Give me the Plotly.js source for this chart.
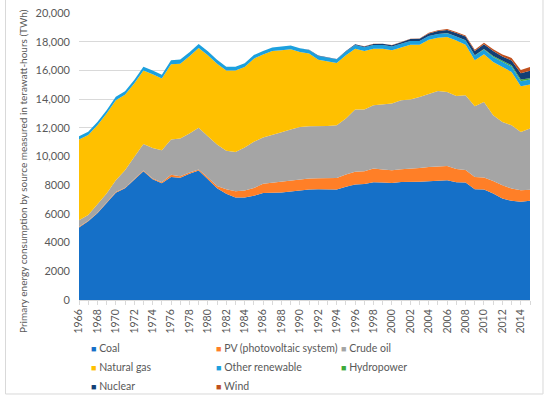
<!DOCTYPE html>
<html>
<head>
<meta charset="utf-8">
<script src="https://cdn.plot.ly/plotly-3.0.1.min.js"></script>
<style>html,body{margin:0;padding:0;background:#fff;}#chart{width:550px;height:395px;}</style>
</head>
<body>
<div id="chart"></div>
<script>
// ---- data (TWh), years 1966..2015 ----
var years = [1966,1967,1968,1969,1970,1971,1972,1973,1974,1975,
             1976,1977,1978,1979,1980,1981,1982,1983,1984,1985,
             1986,1987,1988,1989,1990,1991,1992,1993,1994,1995,
             1996,1997,1998,1999,2000,2001,2002,2003,2004,2005,
             2006,2007,2008,2009,2010,2011,2012,2013,2014,2015];
var coal = [5060,5480,6040,6760,7480,7780,8360,8970,8410,8140,
            8580,8520,8800,9020,8420,7780,7400,7150,7150,7270,
            7450,7450,7500,7560,7650,7700,7720,7700,7700,7890,
            8050,8080,8210,8180,8150,8220,8220,8240,8280,8330,
            8350,8210,8190,7720,7700,7420,7070,6910,6840,6910];
var pv = [40,40,40,40,40,40,40,50,50,60,
          140,110,90,80,120,160,320,420,480,530,
          650,720,720,740,760,770,770,790,800,860,
          880,900,950,920,900,890,910,960,990,970,
          980,920,870,860,840,880,920,860,810,770];
var crudeOil = [450,410,600,620,830,1230,1570,1850,2140,2240,
                2460,2620,2710,2900,2870,2890,2680,2750,2990,3220,
                3220,3310,3470,3580,3650,3640,3620,3640,3680,3890,
                4340,4290,4410,4540,4640,4810,4840,4950,5110,5270,
                5170,5090,5210,4920,5260,4570,4420,4410,4060,4270];
var naturalGas = [5630,5560,5500,5570,5570,5260,5110,5130,5130,4990,
                  5240,5220,5380,5560,5640,5640,5600,5680,5620,5800,
                  5780,5870,5710,5590,5220,5060,4640,4500,4330,4410,
                  4240,4080,3940,3870,3710,3670,3820,3640,3760,3710,
                  3830,3870,3520,3200,3320,3720,3830,3710,3180,3060];
var otherRenewable = [230,230,230,230,240,240,250,260,260,260,
                      280,290,280,280,280,270,260,250,250,250,
                      250,250,260,260,260,260,260,260,260,260,
                      260,260,260,260,260,260,260,260,260,260,
                      260,270,290,330,330,350,370,380,350,350];
var hydropower = [0,0,0,0,0,0,0,0,0,0,
                  0,0,0,0,0,0,0,0,0,0,
                  0,0,0,0,0,0,0,0,0,0,
                  0,0,0,0,0,0,0,0,0,5,
                  8,10,15,20,40,60,70,90,130,100];
var nuclear = [0,0,0,0,0,0,0,0,0,0,
               0,0,0,0,0,0,0,0,0,0,
               0,0,0,0,10,15,20,25,30,40,
               50,60,70,80,90,110,130,150,180,200,
               220,240,260,300,330,350,280,330,440,520];
var wind = [0,0,0,0,0,0,0,0,0,0,
            0,0,0,0,0,0,0,0,0,0,
            0,0,0,0,0,0,0,0,0,5,
            5,8,10,12,15,20,25,30,40,50,
            60,70,80,90,110,130,150,180,220,260];
var tickYears = [1966,1968,1970,1972,1974,1976,1978,1980,1982,1984,1986,1988,1990,
                 1992,1994,1996,1998,2000,2002,2004,2006,2008,2010,2012,2014];
var yTickVals = [0,2000,4000,6000,8000,10000,12000,14000,16000,18000,20000];
var yTickText = ['0','2000','4000','6000','8000','10,000','12,000','14,000','16,000','18,000','20,000'];

var seriesNames = ['Coal','PV (photovoltaic system)','Crude oil','Natural gas','Other renewable','Hydropower','Nuclear','Wind'];
var seriesData = [coal, pv, crudeOil, naturalGas, otherRenewable, hydropower, nuclear, wind];
var seriesColors = ['#1570C8','#FF7F27','#A5A5A5','#FFC000','#1CA0DE','#3DAA3A','#123F75','#C0501E'];
// legend columns (as in the original 3-column legend)
var legendCols = ['c1','c2','c3','c1','c2','c3','c1','c2'];

var FONT = 'Lato, Carlito, "Liberation Sans", sans-serif';
var traces = [];
for (var i = 0; i < seriesNames.length; i++) {
  traces.push({
    x: years, y: seriesData[i], name: seriesNames[i],
    type: 'scatter', mode: 'lines', stackgroup: 'one',
    line: {width: 0, color: seriesColors[i]}, fillcolor: seriesColors[i],
    showlegend: false, hoverinfo: 'x+y+name'
  });
}
// legend entries
for (var j = 0; j < seriesNames.length; j++) {
  traces.push({
    x: [null], y: [null], type: 'scatter', mode: 'markers',
    marker: {color: 'rgba(0,0,0,0)', size: 1},
    name: '<span style="color:' + seriesColors[j] + ';font-size:9px">■</span> ' + seriesNames[j],
    legendgroup: legendCols[j], showlegend: true, hoverinfo: 'skip'
  });
}

var xTickVals = years.slice();
var xTickText = years.map(function(y){ return tickYears.indexOf(y) >= 0 ? String(y) : ''; });

var layout = {
  width: 550, height: 395,
  margin: {l: 79, r: 20, t: 13, b: 95, autoexpand: false},
  paper_bgcolor: '#ffffff', plot_bgcolor: '#ffffff',
  font: {family: FONT, size: 10, color: '#595959'},
  showlegend: true,
  legend: {
    orientation: 'h', traceorder: 'grouped', tracegroupgap: 0,
    x: -0.062, xanchor: 'left', y: -0.117, yanchor: 'top',
    entrywidth: 80, entrywidthmode: 'pixels',
    font: {family: FONT, size: 10.5, color: '#595959'},
    bgcolor: 'rgba(0,0,0,0)'
  },
  xaxis: {
    range: [1966, 2015], tickmode: 'array', tickvals: xTickVals, ticktext: xTickText,
    tickangle: -90, ticks: 'outside', ticklen: 4, tickcolor: '#D9D9D9',
    showgrid: false, zeroline: false, showline: true, linecolor: '#D9D9D9',
    tickfont: {family: FONT, size: 10.5, color: '#595959'}, fixedrange: true
  },
  yaxis: {
    range: [0, 20000], tickmode: 'array', tickvals: yTickVals, ticktext: yTickText,
    showgrid: true, gridcolor: '#D9D9D9', gridwidth: 1, zeroline: false,
    showline: false, ticks: '', ticklabelstandoff: 8,
    tickfont: {family: FONT, size: 11, color: '#595959'}, fixedrange: true
  },
  annotations: [{
    text: 'Primary energy consumption by source measured in terawatt-hours (TWh)',
    xref: 'paper', yref: 'paper', x: -0.124, y: 0.45, textangle: -90,
    xanchor: 'center', yanchor: 'middle', showarrow: false,
    font: {family: FONT, size: 10, color: '#595959'}
  }],
  shapes: [{
    type: 'rect', xref: 'paper', yref: 'paper',
    x0: -0.163, x1: 1.0288, y0: -0.3275, y1: 1.2,
    line: {color: '#D9D9D9', width: 1}, fillcolor: 'rgba(0,0,0,0)', layer: 'below'
  }]
};

Plotly.newPlot('chart', traces, layout, {displayModeBar: false, staticPlot: true});
</script>
</body>
</html>
